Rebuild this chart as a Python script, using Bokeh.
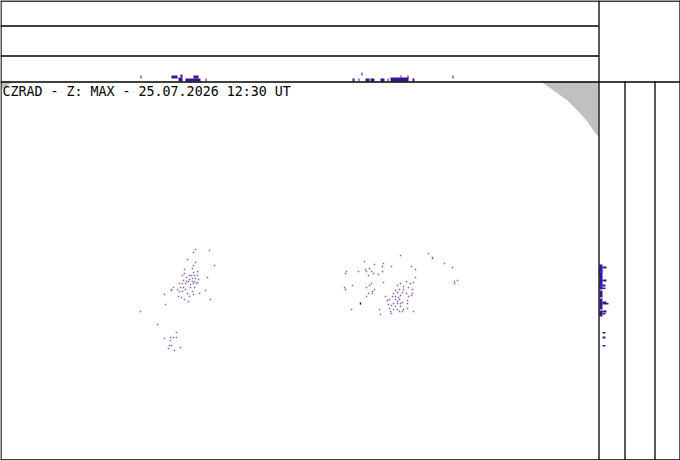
from bokeh.plotting import figure
from bokeh.models import Range1d
from bokeh.embed import file_html
from bokeh.resources import INLINE
from bokeh.core.properties import value

# ---------------- data (image pixel coordinates of the radar product) ----------------
title = "CZRAD - Z: MAX - 25.07.2026 12:30 UT"

# echo pixels, western cell
echo1_x = [195, 193, 209, 187, 195, 193, 214, 184, 192, 193, 197, 182, 184, 189, 191, 194, 197,
           186, 189, 192, 195, 198, 207, 183, 186, 188, 192, 194, 197, 179, 182, 185, 190, 193,
           196, 173, 177, 171, 180, 183, 185, 190, 194, 179, 182, 192, 205, 171, 199, 187, 164,
           178, 181, 189, 193, 210, 184, 188, 165, 140, 157, 176, 173, 170, 164, 176, 170, 169,
           171, 180, 168, 174]
echo1_y = [249, 252, 250, 259, 262, 265, 265, 269, 268, 272, 271, 275, 273, 275, 275, 275, 275,
           277, 279, 278, 278, 279, 277, 280, 281, 281, 281, 281, 282, 283, 283, 283, 284, 283,
           283, 287, 289, 289, 287, 287, 289, 287, 287, 291, 291, 291, 290, 290, 293, 293, 294,
           296, 297, 296, 294, 299, 299, 301, 304, 311, 324, 332, 337, 337, 338, 337, 340, 345,
           345, 347, 348, 350]

# echo pixels, eastern cell
echo2_x = [400, 428, 432, 432, 383, 364, 444, 452, 374, 382, 391, 411, 369, 365, 346, 345, 415,
           358, 366, 371, 382, 368, 378, 373, 415, 457, 454, 454, 352, 371, 383, 400, 406, 410,
           413, 369, 397, 403, 408, 344, 345, 366, 372, 374, 399, 395, 403, 412, 368, 372, 393,
           397, 402, 406, 412, 411, 392, 395, 398, 400, 408, 385, 366, 387, 389, 395, 397, 399,
           402, 407, 393, 397, 400, 407, 388, 391, 395, 400, 389, 393, 397, 403, 407, 351, 379,
           390, 391, 380, 399, 402, 413]
echo2_y = [255, 253, 258, 257, 263, 261, 263, 267, 264, 266, 266, 266, 268, 269, 271, 273, 269,
           271, 271, 271, 271, 275, 274, 273, 277, 280, 283, 281, 285, 283, 282, 283, 281, 283,
           282, 285, 285, 286, 287, 287, 289, 287, 291, 289, 289, 290, 289, 289, 293, 293, 293,
           292, 292, 293, 293, 295, 296, 296, 297, 295, 296, 296, 296, 300, 299, 299, 301, 299,
           302, 300, 303, 303, 303, 303, 304, 305, 306, 306, 308, 309, 309, 309, 308, 309, 309,
           311, 313, 314, 311, 311, 311]

# strong echo pixel
strong_x = [360]
strong_y = [303]

# top strip: column max projection (x from, x to, top row, bottom row)
top_x0 = [140, 171, 178, 180, 185, 193, 205, 352, 358, 361, 365, 370, 380, 387, 390, 400, 407, 412, 452]
top_x1 = [141, 177, 182, 182, 200, 198, 206, 354, 359, 362, 369, 374, 384, 388, 408, 401, 408, 414, 453]
top_y0 = [75, 75, 77, 74, 78, 75, 78, 78, 78, 72, 78, 78, 78, 78, 77, 75, 75, 78, 75]
top_y1 = [78, 78, 81, 77, 81, 78, 81, 81, 81, 75, 81, 81, 81, 81, 81, 77, 78, 81, 78]

# right strip: row max projection (x from, x to, top row, bottom row)
side_x0 = [599, 599, 599, 599, 602, 602, 602, 602, 602, 602, 602, 602, 602, 602, 602]
side_x1 = [602, 602, 602, 602, 606, 606, 605, 605, 606, 608, 606, 605, 605, 605, 605]
side_y0 = [264, 290, 298, 310, 266, 279, 284, 287, 301, 302.5, 310, 312.5, 331.5, 336, 344.5]
side_y1 = [289, 297, 309, 316, 268, 281, 286, 288.5, 302.5, 304, 312, 314, 333, 338, 346]
blue_y0 = [269, 283]
blue_y1 = [273, 287]

# area outside radar coverage (range ring), top-right corner of the map
out_x = [540, 598, 598, 597, 593, 586, 577, 567, 553]
out_y = [81, 81, 137, 135, 130, 120, 110, 100, 90]
corner_x = [1, 13, 1]
corner_y = [81, 81, 89]

# frame lines (panels)
h_x0 = [0, 0, 0, 0, 0]
h_x1 = [598, 598, 680, 680, 680]
h_y = [25.5, 55.5, 81.5, 0.5, 459.5]
v_x = [0.5, 598.5, 624.5, 654.5, 679.5]
v_y0 = [0, 0, 81, 81, 0]
v_y1 = [460, 460, 460, 460, 460]

# ---------------- figure ----------------
p = figure(width=680, height=460, x_range=Range1d(0, 680), y_range=Range1d(460, 0),
           x_axis_type=None, y_axis_type=None, toolbar_location=None,
           output_backend="svg", min_border=0)
p.outline_line_color = None
p.grid.visible = False
p.background_fill_color = "white"
p.border_fill_color = "white"

p.patch(out_x, out_y, fill_color="#c0c0c0", line_color=None)
p.patch(corner_x, corner_y, fill_color="#c0c0c0", line_color=None)

echo_col = "#8868b0"
p.rect(x=echo1_x, y=echo1_y, width=1.5, height=1.6, fill_color=echo_col, line_color=None)
p.rect(x=echo2_x, y=echo2_y, width=1.5, height=1.6, fill_color=echo_col, line_color=None)
p.rect(x=strong_x, y=strong_y, width=1.5, height=2.2, fill_color="#2a0c8c", line_color=None)

p.quad(left=top_x0, right=top_x1, top=top_y0, bottom=top_y1,
       fill_color="#3c1290", line_color=None)
p.quad(left=side_x0, right=side_x1, top=side_y0, bottom=side_y1,
       fill_color="#3c1290", line_color=None)
p.quad(left=[599] * len(blue_y0), right=[602] * len(blue_y0), top=blue_y0, bottom=blue_y1,
       fill_color="#2a2ae6", line_color=None)

p.segment(x0=h_x0, x1=h_x1, y0=h_y, y1=h_y, line_color="black", line_width=1.3)
p.segment(x0=v_x, x1=v_x, y0=v_y0, y1=v_y1, line_color="black", line_width=1.3)

p.text(x=[2], y=[83], text=[title], text_font=value("DejaVu Sans Mono"),
       text_font_size="13.3px", text_baseline="top", text_align="left", text_color="black")

open("out.html", "w").write(file_html(p, INLINE))
